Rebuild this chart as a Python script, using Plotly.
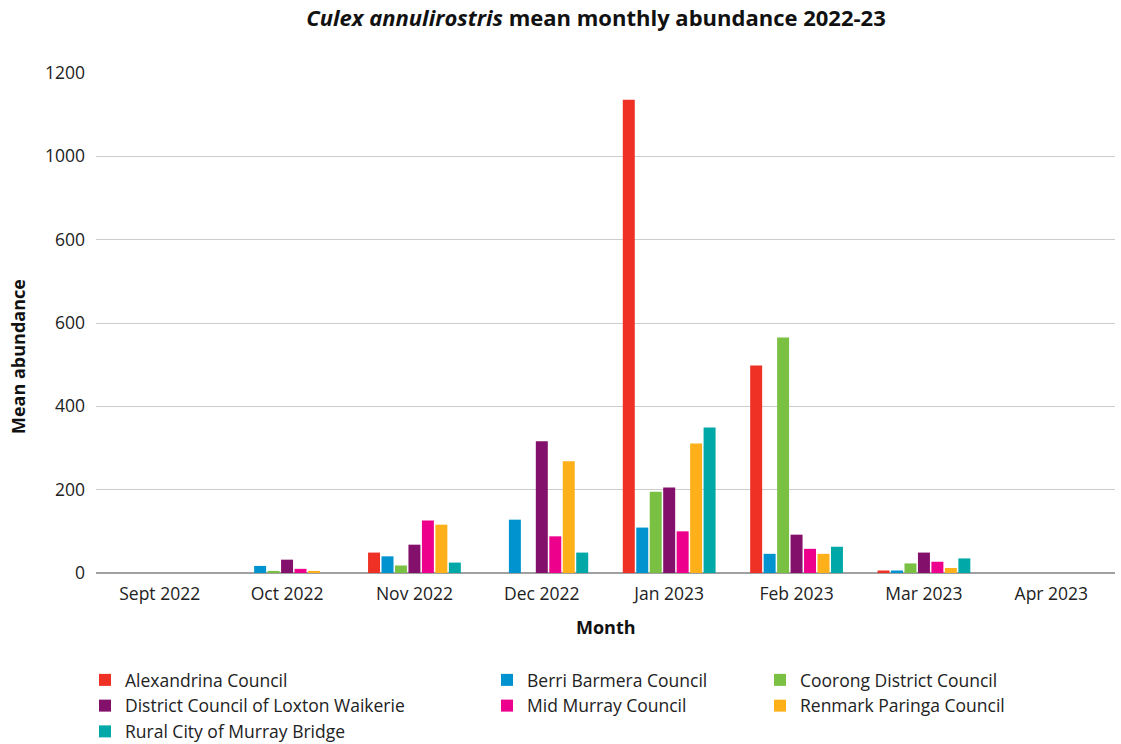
import plotly.graph_objects as go

months = ["Sept 2022", "Oct 2022", "Nov 2022", "Dec 2022", "Jan 2023", "Feb 2023", "Mar 2023", "Apr 2023"]

alexandrina = [None, None, 49, None, 1136, 498, 6, None]
berri = [None, 17, 40, 128, 109, 46, 6, None]
coorong = [None, 5, 18, None, 195, 565, 23, None]
loxton = [None, 32, 68, 316, 205, 92, 49, None]
mid_murray = [None, 10, 126, 88, 100, 58, 27, None]
renmark = [None, 5, 116, 268, 311, 46, 12, None]
murray_bridge = [None, None, 25, 49, 349, 63, 35, None]

series = [
    ("Alexandrina Council", alexandrina, "#EE3124", "legend"),
    ("Berri Barmera Council", berri, "#0093D0", "legend2"),
    ("Coorong District Council", coorong, "#7AC143", "legend3"),
    ("District Council of Loxton Waikerie", loxton, "#83106B", "legend"),
    ("Mid Murray Council", mid_murray, "#EC008C", "legend2"),
    ("Renmark Paringa Council", renmark, "#FDB01A", "legend3"),
    ("Rural City of Murray Bridge", murray_bridge, "#00A9A8", "legend"),
]

y_tickvals = [0, 200, 400, 600, 800, 1000, 1200]
y_ticktext = ["0", "200", "400", "600", "600", "1000", "1200"]

FONT = "Open Sans"

fig = go.Figure()
for name, vals, color, leg in series:
    fig.add_trace(go.Bar(x=months, y=vals, name=name, marker_color=color,
                         marker_line_width=0, legend=leg))

W, H = 1121, 744
ML, MR, MT, MB = 96, 6, 73, 171
PW, PH = W - ML - MR, H - MT - MB

legend_common = dict(xref="container", yref="container", xanchor="left", yanchor="top",
                     orientation="v", font=dict(family=FONT, size=17.5, color="#222"),
                     bgcolor="rgba(0,0,0,0)", itemclick=False, tracegroupgap=0)

fig.update_layout(
    width=W, height=H,
    margin=dict(l=ML, r=MR, t=MT, b=MB, autoexpand=False),
    paper_bgcolor="white", plot_bgcolor="white",
    font=dict(family=FONT, size=17, color="#222"),
    barmode="group", bargap=0.26, bargroupgap=0.11,
    title=dict(text="<i>Culex annulirostris</i> mean monthly abundance 2022-23",
               x=596 / W, xref="container", xanchor="center",
               y=1 - 18 / H, yref="container", yanchor="middle",
               font=dict(family=FONT, size=22, color="#111", weight="bold")),
    xaxis=dict(categoryorder="array", categoryarray=months, showgrid=False,
               showline=False, ticks="", tickfont=dict(size=17.5, color="#222"),
               ticklabelstandoff=8, automargin=False),
    yaxis=dict(range=[0, 1200], tickvals=y_tickvals, ticktext=y_ticktext,
               showgrid=True, gridcolor="#CCCCCC", gridwidth=1,
               zeroline=True, zerolinecolor="#A0A0A0", zerolinewidth=2,
               ticks="", ticklabelstandoff=10, tickfont=dict(size=17.5, color="#222"),
               automargin=False),
    legend=dict(x=85 / W, y=1 - 662 / H, **legend_common),
    legend2=dict(x=487 / W, y=1 - 662 / H, **legend_common),
    legend3=dict(x=760 / W, y=1 - 662 / H, **legend_common),
    annotations=[
        dict(text="<b>Month</b>", xref="paper", yref="paper", x=0.5,
             y=(H - MB - 627) / PH,
             xanchor="center", yanchor="middle", showarrow=False,
             font=dict(family=FONT, size=18, color="#111")),
        dict(text="<b>Mean abundance</b>", xref="paper", yref="paper",
             x=(18 - ML) / PW, y=(H - MB - 357) / PH,
             xanchor="center", yanchor="middle", showarrow=False, textangle=-90,
             font=dict(family=FONT, size=18, color="#111")),
    ],
)

fig.write_html("out.html")
